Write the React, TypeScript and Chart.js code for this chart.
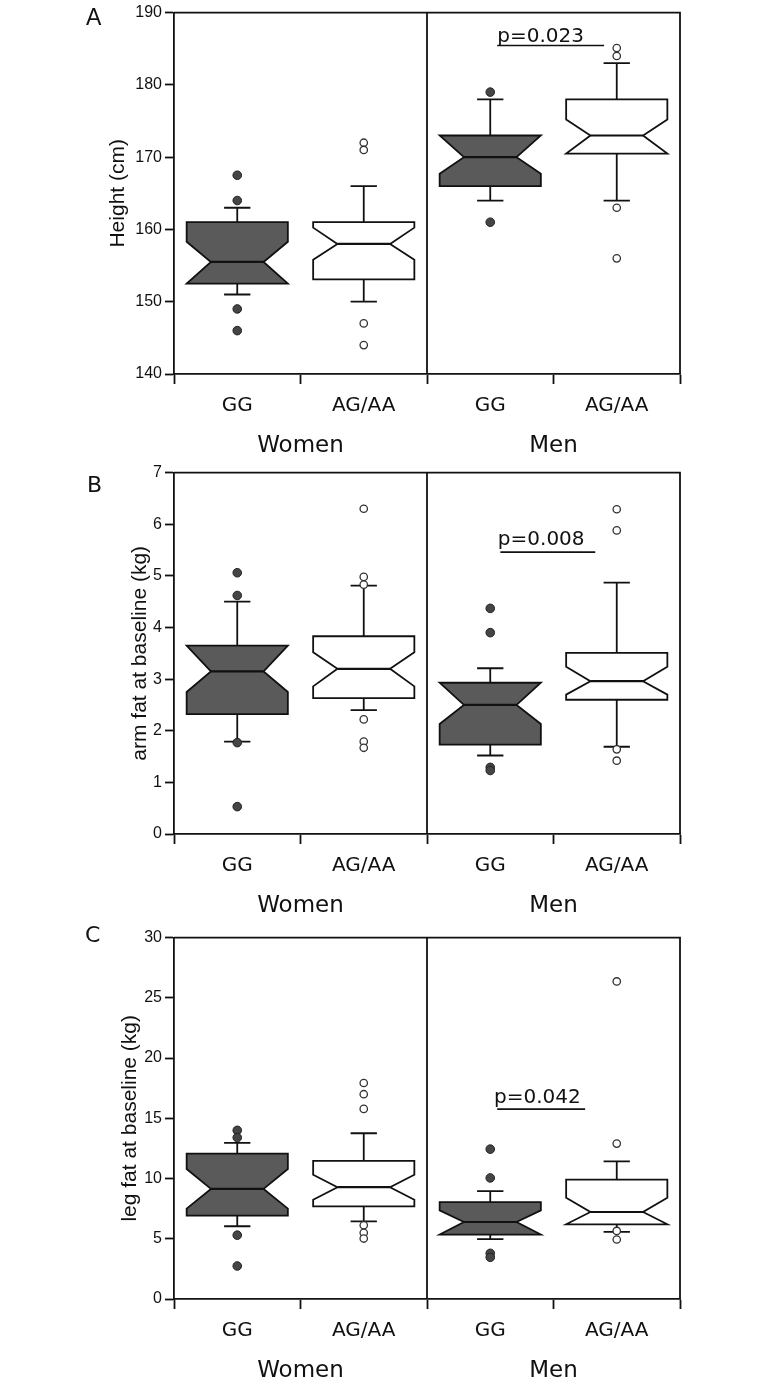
import { useEffect, useRef } from "react";
import { Chart, registerables } from "chart.js";

Chart.register(...registerables);

// ---------- data ----------
const categories = ["GG", "AG/AA", "GG", "AG/AA"];
const groups = ["Women", "Men"];

// Panel A: Height (cm)
const heightQ1 = [152.5, 153.1, 166, 170.5];
const heightMedian = [155.5, 158, 170, 173];
const heightQ3 = [161, 161, 173, 178];
const heightNotchLo = [152.5, 155.8, 167.7, 170.5];
const heightNotchHi = [158.3, 160.25, 173, 175.2];
const heightWhiskerLo = [151, 150, 164, 164];
const heightWhiskerHi = [163, 166, 178, 183];
const heightOutliers = [
  [167.5, 164, 149, 146],
  [172, 171, 147, 144],
  [179, 161],
  [185.1, 184, 163, 156],
];
const heightTicks = { min: 140, max: 190, step: 10 };
const heightP = { text: "p=0.023", textX: 2.055, textY: 185.9, lineX0: 2.055, lineX1: 2.9, lineY: 185.45 };

// Panel B: arm fat at baseline (kg)
const armQ1 = [2.32, 2.63, 1.73, 2.6];
const armMedian = [3.15, 3.2, 2.5, 2.96];
const armQ3 = [3.65, 3.83, 2.93, 3.51];
const armNotchLo = [2.75, 2.86, 2.13, 2.7];
const armNotchHi = [3.65, 3.52, 2.93, 3.24];
const armWhiskerLo = [1.79, 2.4, 1.52, 1.69];
const armWhiskerHi = [4.5, 4.81, 3.21, 4.87];
const armOutliers = [
  [5.06, 4.62, 1.77, 0.53],
  [6.3, 4.98, 4.83, 2.22, 1.79, 1.67],
  [4.37, 3.9, 1.29, 1.23],
  [6.29, 5.88, 1.64, 1.42],
];
const armTicks = { min: 0, max: 7, step: 1 };
const armP = { text: "p=0.008", textX: 2.06, textY: 5.6, lineX0: 2.08, lineX1: 2.83, lineY: 5.46 };

// Panel C: leg fat at baseline (kg)
const legQ1 = [6.92, 7.69, 5.35, 6.2];
const legMedian = [9.14, 9.28, 6.39, 7.22];
const legQ3 = [12.07, 11.47, 8.04, 9.91];
const legNotchLo = [7.5, 8.24, 5.35, 6.2];
const legNotchHi = [10.79, 10.32, 7.36, 8.4];
const legWhiskerLo = [6.04, 6.45, 4.97, 5.57];
const legWhiskerHi = [12.96, 13.76, 8.95, 11.42];
const legOutliers = [
  [14.0, 13.4, 5.3, 2.74],
  [17.93, 17.0, 15.78, 6.12, 5.49, 5.02],
  [12.44, 10.05, 3.79, 3.46],
  [26.36, 12.9, 5.65, 4.94],
];
const legTicks = { min: 0, max: 30, step: 5 };
const legP = { text: "p=0.042", textX: 2.03, textY: 16.28, lineX0: 2.055, lineX1: 2.75, lineY: 15.76 };

// ---------- panels ----------
type PVal = { text: string; textX: number; textY: number; lineX0: number; lineX1: number; lineY: number };
type Panel = {
  letter: string;
  title: string;
  q1: number[];
  median: number[];
  q3: number[];
  notchLo: number[];
  notchHi: number[];
  whiskerLo: number[];
  whiskerHi: number[];
  outliers: number[][];
  ticks: { min: number; max: number; step: number };
  p: PVal;
};

const panels: Panel[] = [
  {
    letter: "A", title: "Height (cm)", q1: heightQ1, median: heightMedian, q3: heightQ3,
    notchLo: heightNotchLo, notchHi: heightNotchHi, whiskerLo: heightWhiskerLo, whiskerHi: heightWhiskerHi,
    outliers: heightOutliers, ticks: heightTicks, p: heightP,
  },
  {
    letter: "B", title: "arm fat at baseline (kg)", q1: armQ1, median: armMedian, q3: armQ3,
    notchLo: armNotchLo, notchHi: armNotchHi, whiskerLo: armWhiskerLo, whiskerHi: armWhiskerHi,
    outliers: armOutliers, ticks: armTicks, p: armP,
  },
  {
    letter: "C", title: "leg fat at baseline (kg)", q1: legQ1, median: legMedian, q3: legQ3,
    notchLo: legNotchLo, notchHi: legNotchHi, whiskerLo: legWhiskerLo, whiskerHi: legWhiskerHi,
    outliers: legOutliers, ticks: legTicks, p: legP,
  },
];

// ---------- layout / style ----------
const W = 766;
const H = 460;
const panelLayout = [
  { top: 0, titlePad: 106, letterX: 86, letterBaseline: 25, letterFont: '23px "Liberation Sans", Arial, sans-serif' },
  { top: 460, titlePad: 128, letterX: 87, letterBaseline: 32, letterFont: '22px "DejaVu Sans", sans-serif' },
  { top: 925, titlePad: 118, letterX: 85, letterBaseline: 17, letterFont: '22px "DejaVu Sans", sans-serif' },
];
const INK = "#111111";
const DARK_FILL = "#5a5a5a";
const LW = 1.8;

function makePlugin(p: Panel, lay: (typeof panelLayout)[number]) {
  return {
    id: "notchedBoxes",
    beforeDatasetsDraw(chart: any) {
      const { ctx, chartArea: a, scales } = chart;
      const x = scales.x;
      const y = scales.y;
      const catW = x.getPixelForValue(1) - x.getPixelForValue(0);
      const bw = catW * 0.8;
      const ins = bw * 0.24;
      const cap = bw * 0.26;
      ctx.save();
      ctx.strokeStyle = INK;
      ctx.lineWidth = LW;
      ctx.lineJoin = "miter";
      // frame (top, right, group divider)
      const xd = x.getPixelForValue(1.5);
      ctx.beginPath();
      ctx.moveTo(a.left, a.top);
      ctx.lineTo(a.right, a.top);
      ctx.lineTo(a.right, a.bottom);
      ctx.moveTo(xd, a.top);
      ctx.lineTo(xd, a.bottom);
      ctx.stroke();

      for (let i = 0; i < categories.length; i++) {
        const cx = x.getPixelForValue(i);
        const x0 = cx - bw / 2;
        const x1 = cx + bw / 2;
        const yq1 = y.getPixelForValue(p.q1[i]);
        const yq3 = y.getPixelForValue(p.q3[i]);
        const ym = y.getPixelForValue(p.median[i]);
        const ynl = y.getPixelForValue(p.notchLo[i]);
        const ynh = y.getPixelForValue(p.notchHi[i]);
        const ywl = y.getPixelForValue(p.whiskerLo[i]);
        const ywh = y.getPixelForValue(p.whiskerHi[i]);
        // whiskers
        ctx.beginPath();
        ctx.moveTo(cx, yq3);
        ctx.lineTo(cx, ywh);
        ctx.moveTo(cx - cap / 2, ywh);
        ctx.lineTo(cx + cap / 2, ywh);
        ctx.moveTo(cx, yq1);
        ctx.lineTo(cx, ywl);
        ctx.moveTo(cx - cap / 2, ywl);
        ctx.lineTo(cx + cap / 2, ywl);
        ctx.stroke();
        // notched box
        ctx.beginPath();
        ctx.moveTo(x0, yq3);
        ctx.lineTo(x1, yq3);
        ctx.lineTo(x1, ynh);
        ctx.lineTo(x1 - ins, ym);
        ctx.lineTo(x1, ynl);
        ctx.lineTo(x1, yq1);
        ctx.lineTo(x0, yq1);
        ctx.lineTo(x0, ynl);
        ctx.lineTo(x0 + ins, ym);
        ctx.lineTo(x0, ynh);
        ctx.closePath();
        ctx.fillStyle = i % 2 === 0 ? DARK_FILL : "#ffffff";
        ctx.fill();
        ctx.stroke();
        // median
        ctx.beginPath();
        ctx.lineWidth = 2.2;
        ctx.moveTo(x0 + ins, ym);
        ctx.lineTo(x1 - ins, ym);
        ctx.stroke();
        ctx.lineWidth = LW;
      }

      // p-value annotation
      ctx.fillStyle = INK;
      ctx.font = '20px "DejaVu Sans", sans-serif';
      ctx.textAlign = "left";
      ctx.textBaseline = "alphabetic";
      ctx.fillText(p.p.text, x.getPixelForValue(p.p.textX), y.getPixelForValue(p.p.textY));
      ctx.beginPath();
      ctx.lineWidth = 1.6;
      const ly = y.getPixelForValue(p.p.lineY);
      ctx.moveTo(x.getPixelForValue(p.p.lineX0), ly);
      ctx.lineTo(x.getPixelForValue(p.p.lineX1), ly);
      ctx.stroke();

      // panel letter
      ctx.font = lay.letterFont;
      ctx.fillText(p.letter, lay.letterX, lay.letterBaseline);
      ctx.restore();
    },
  };
}

function makeConfig(p: Panel, lay: (typeof panelLayout)[number]): any {
  const darkPts: { x: number; y: number }[] = [];
  const openPts: { x: number; y: number }[] = [];
  p.outliers.forEach((vals, i) => {
    vals.forEach((v) => (i % 2 === 0 ? darkPts : openPts).push({ x: i, y: v }));
  });
  return {
    type: "scatter",
    data: {
      labels: categories,
      datasets: [
        {
          data: darkPts,
          parsing: false,
          pointRadius: 4.3,
          pointBackgroundColor: "#454545",
          pointBorderColor: "#222",
          pointBorderWidth: 1,
          showLine: false,
        },
        {
          data: openPts,
          parsing: false,
          pointRadius: 3.7,
          pointBackgroundColor: "#ffffff",
          pointBorderColor: "#333",
          pointBorderWidth: 1.3,
          showLine: false,
        },
      ],
    },
    options: {
      animation: false,
      responsive: false,
      maintainAspectRatio: false,
      devicePixelRatio: 1,
      events: [],
      layout: { padding: { left: 0, right: 86, top: 10, bottom: 0 } },
      plugins: { legend: { display: false }, tooltip: { enabled: false } },
      scales: {
        x: {
          type: "category",
          labels: categories,
          position: "bottom",
          weight: 1,
          offset: true,
          grid: {
            display: true,
            offset: true,
            drawOnChartArea: false,
            drawTicks: true,
            tickLength: 10,
            tickWidth: LW,
            tickColor: INK,
            color: INK,
          },
          border: { display: true, color: INK, width: LW },
          ticks: {
            color: INK,
            font: { family: '"DejaVu Sans", sans-serif', size: 20 },
            padding: 10,
            maxRotation: 0,
            autoSkip: false,
          },
          afterFit: (s: any) => {
            s.height = 45;
          },
        },
        x2: {
          type: "category",
          labels: groups,
          position: "bottom",
          weight: 2,
          offset: true,
          grid: { display: false, drawTicks: false, drawOnChartArea: false },
          border: { display: false },
          ticks: {
            color: INK,
            font: { family: '"DejaVu Sans", sans-serif', size: 23 },
            padding: 13,
            maxRotation: 0,
            autoSkip: false,
          },
          afterFit: (s: any) => {
            s.height = 41;
          },
        },
        y: {
          type: "linear",
          position: "left",
          min: p.ticks.min,
          max: p.ticks.max,
          ticks: {
            stepSize: p.ticks.step,
            color: INK,
            font: { family: '"Liberation Sans", Arial, sans-serif', size: 16 },
            padding: 3,
          },
          grid: {
            display: true,
            drawOnChartArea: false,
            drawTicks: true,
            tickLength: 9,
            tickWidth: LW,
            tickColor: INK,
            color: INK,
          },
          border: { display: true, color: INK, width: LW },
          title: {
            display: true,
            text: p.title,
            color: INK,
            font: { family: '"Liberation Sans", Arial, sans-serif', size: 21 },
            padding: { top: lay.titlePad, bottom: 0 },
          },
          afterFit: (s: any) => {
            s.width = 174;
          },
        },
      },
    },
    plugins: [makePlugin(p, lay)],
  };
}

function PanelChart({ panel, lay }: { panel: Panel; lay: (typeof panelLayout)[number] }) {
  const ref = useRef<HTMLCanvasElement>(null);
  useEffect(() => {
    if (!ref.current) return;
    const chart = new Chart(ref.current, makeConfig(panel, lay));
    return () => chart.destroy();
  }, [panel, lay]);
  return (
    <canvas
      ref={ref}
      width={W}
      height={H}
      style={{ position: "absolute", left: 0, top: lay.top, width: W, height: H }}
    />
  );
}

export default function App() {
  return (
    <div
      style={{
        position: "absolute",
        left: 0,
        top: 0,
        width: W,
        height: 1386,
        background: "#ffffff",
        overflow: "hidden",
      }}
    >
      {panels.map((p, i) => (
        <PanelChart key={p.letter} panel={p} lay={panelLayout[i]} />
      ))}
    </div>
  );
}
